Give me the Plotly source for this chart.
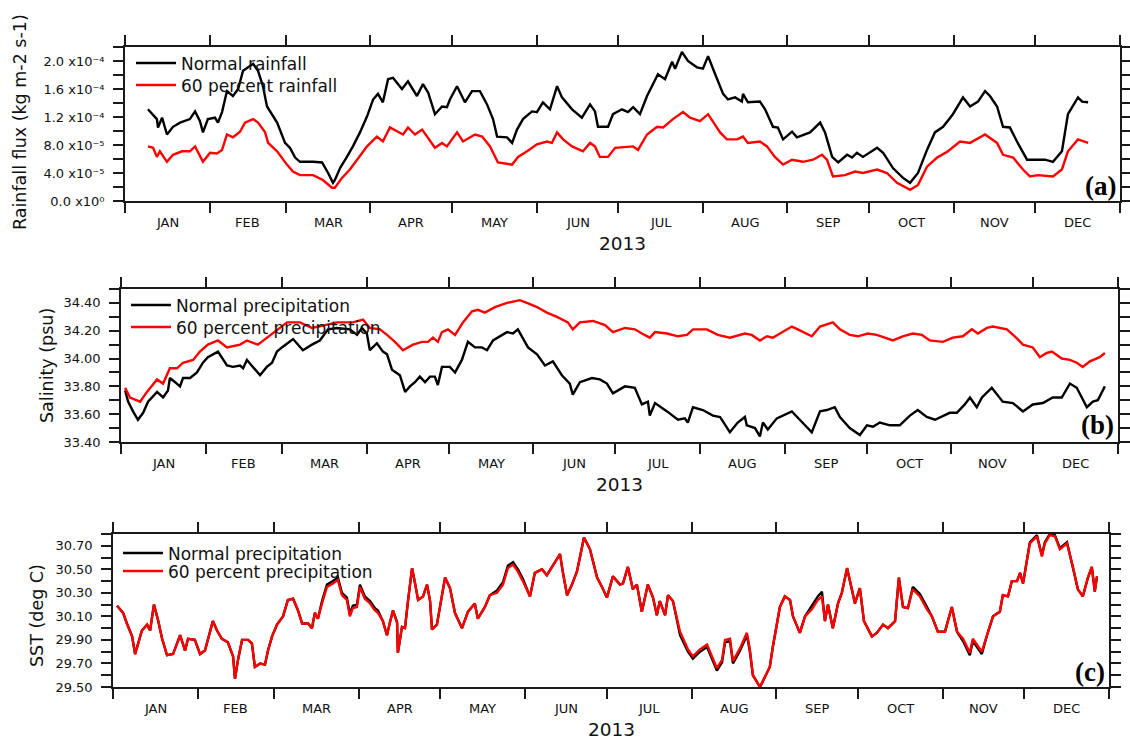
import plotly.graph_objects as go

# ---------------- axis categories / labels ----------------
MONTHS = ["JAN", "FEB", "MAR", "APR", "MAY", "JUN", "JUL", "AUG", "SEP", "OCT", "NOV", "DEC"]
MONTH_START = [0, 31, 59, 90, 120, 151, 181, 212, 243, 273, 304, 334, 365]
YEAR_LABEL = "2013"

RAIN_TICKS = [0, 4e-5, 8e-5, 1.2e-4, 1.6e-4, 2.0e-4]
RAIN_TICKTEXT = ["0.0 x10\u2070", "4.0 x10\u207b\u2075", "8.0 x10\u207b\u2075",
                 "1.2 x10\u207b\u2074", "1.6 x10\u207b\u2074", "2.0 x10\u207b\u2074"]
RAIN_MINOR = [2e-5, 6e-5, 1.0e-4, 1.4e-4, 1.8e-4, 2.2e-4]
SAL_TICKS = [33.4, 33.6, 33.8, 34.0, 34.2, 34.4]
SAL_TICKTEXT = ["33.40", "33.60", "33.80", "34.00", "34.20", "34.40"]
SAL_MINOR = [33.5, 33.7, 33.9, 34.1, 34.3, 34.5]
SST_TICKS = [29.5, 29.7, 29.9, 30.1, 30.3, 30.5, 30.7]
SST_TICKTEXT = ["29.50", "29.70", "29.90", "30.10", "30.30", "30.50", "30.70"]
SST_MINOR = [29.6, 29.8, 30.0, 30.2, 30.4, 30.6, 30.8]

# ---------------- (a) rainfall flux, kg m-2 s-1 (values x 1e-5) ----------------
rain_normal_days = [
    8.4, 11.7, 12.1, 13.6, 15.4, 17.6, 20.2, 23.8, 25.7, 27.5,
    28.6, 30.4, 33.0, 34.1, 35.6, 37.4, 39.6, 41.5, 43.3, 47.0,
    48.8, 50.6, 52.1, 53.9, 55.8, 58.7, 60.5, 62.4, 64.2, 69.0,
    72.3, 74.5, 76.3, 77.0, 78.9, 81.4, 83.6, 86.2, 88.8, 91.0,
    92.8, 94.6, 96.5, 98.3, 101.6, 103.8, 105.6, 107.1, 109.3, 111.2,
    113.7, 116.3, 118.1, 119.2, 121.8, 124.7, 127.3, 130.2, 132.8, 135.0,
    136.5, 140.1, 142.0, 143.8, 146.0, 149.3, 151.1, 153.3, 155.9, 158.5,
    160.3, 164.0, 167.6, 170.6, 172.4, 173.5, 177.2, 179.0, 182.3, 184.5,
    186.4, 188.9, 191.5, 193.3, 195.5, 198.1, 200.7, 201.8, 204.3, 206.5,
    209.8, 212.0, 213.9, 215.7, 217.5, 219.4, 221.2, 223.8, 226.3, 226.7,
    228.5, 232.9, 234.8, 237.7, 239.5, 241.4, 244.7, 246.5, 251.3, 255.0,
    256.8, 259.4, 261.6, 264.9, 266.7, 268.5, 270.7, 275.9, 278.1, 281.7,
    285.4, 288.0, 290.9, 294.2, 297.1, 300.1, 303.7, 307.4, 310.0, 312.9,
    315.5, 317.3, 319.9, 322.1, 324.6, 327.2, 330.9, 333.1, 337.5, 340.4,
    343.7, 345.9, 349.6, 351.1, 353.3]
rain_normal_e5 = [
    13.1, 11.7, 10.5, 11.9, 9.5, 10.6, 11.2, 11.7, 12.8, 11.4,
    9.8, 11.7, 11.9, 11.2, 12.7, 15.7, 15.0, 16.0, 18.6, 19.6,
    18.6, 16.4, 13.5, 12.4, 11.2, 8.3, 7.6, 6.2, 5.6, 5.6,
    5.5, 4.0, 2.6, 3.0, 4.7, 6.3, 7.8, 9.8, 12.1, 14.5,
    15.3, 14.1, 17.4, 17.6, 16.0, 17.1, 16.0, 15.0, 16.7, 15.5,
    12.4, 13.5, 13.4, 14.5, 16.4, 14.1, 15.7, 15.7, 13.8, 11.7,
    9.2, 9.1, 8.3, 10.2, 11.7, 12.8, 12.7, 14.1, 13.1, 16.4,
    14.8, 13.1, 11.9, 13.8, 12.8, 10.6, 10.6, 12.4, 13.1, 12.7,
    13.4, 12.4, 15.0, 16.3, 18.1, 17.4, 19.9, 18.9, 21.3, 20.0,
    19.1, 18.9, 20.7, 18.9, 17.0, 15.3, 14.5, 14.8, 14.2, 15.3,
    14.1, 14.2, 13.1, 10.6, 10.5, 8.8, 9.9, 9.1, 9.8, 11.2,
    9.8, 6.3, 5.5, 6.6, 6.2, 6.9, 6.3, 7.6, 6.9, 4.7,
    3.3, 2.6, 4.0, 7.3, 9.8, 10.6, 12.4, 14.8, 13.5, 14.2,
    15.7, 15.0, 13.5, 10.6, 10.5, 8.5, 5.9, 5.9, 5.9, 5.6,
    7.1, 12.4, 14.8, 14.2, 14.1]

rain_60_days = [
    8.4, 10.3, 11.7, 12.8, 15.4, 17.6, 20.9, 23.8, 25.7, 27.5,
    28.6, 31.2, 33.7, 35.6, 37.4, 39.6, 42.2, 44.0, 47.0, 48.8,
    51.4, 52.5, 55.8, 59.4, 61.6, 64.2, 69.0, 72.6, 75.9, 77.0,
    79.6, 82.5, 85.1, 88.8, 92.4, 94.6, 97.2, 100.1, 102.0, 103.8,
    106.4, 109.0, 110.8, 113.7, 116.3, 118.1, 121.8, 124.0, 128.4, 131.0,
    133.9, 135.7, 136.8, 142.0, 144.2, 147.5, 151.1, 154.8, 156.6, 158.5,
    160.7, 164.0, 168.0, 170.6, 172.4, 174.2, 177.2, 179.8, 184.2, 186.4,
    188.2, 191.5, 195.2, 197.4, 201.0, 204.7, 207.3, 210.9, 213.9, 215.7,
    218.3, 220.8, 224.5, 226.7, 228.5, 232.9, 235.5, 238.4, 241.4, 244.7,
    248.7, 252.4, 255.7, 257.5, 259.7, 264.1, 267.8, 270.7, 275.9, 279.5,
    283.2, 288.0, 290.9, 294.2, 297.9, 301.9, 306.3, 310.0, 315.5, 319.9,
    322.1, 325.8, 329.4, 332.0, 334.9, 340.4, 343.7, 345.9, 349.6, 353.3]
rain_60_e5 = [
    7.8, 7.6, 6.3, 7.1, 5.6, 6.6, 7.1, 7.1, 7.8, 6.3,
    5.6, 6.9, 6.8, 7.3, 9.5, 9.1, 9.9, 11.2, 11.7, 11.2,
    9.8, 8.3, 7.1, 5.2, 4.2, 3.7, 3.7, 3.0, 1.9, 1.9,
    3.3, 4.5, 5.9, 7.8, 9.2, 8.5, 10.5, 9.9, 9.5, 10.5,
    9.5, 10.2, 9.2, 7.6, 8.3, 7.8, 9.8, 8.5, 9.5, 9.2,
    7.8, 6.3, 5.5, 5.2, 6.3, 7.1, 8.1, 8.5, 8.3, 9.8,
    8.8, 7.8, 7.1, 8.3, 7.8, 6.3, 6.3, 7.6, 7.8, 7.8,
    7.3, 9.5, 10.6, 10.5, 11.7, 12.7, 11.9, 11.4, 12.4, 11.4,
    9.8, 8.8, 8.8, 9.2, 8.3, 8.5, 7.8, 6.3, 5.2, 5.9,
    5.6, 5.9, 6.6, 5.9, 3.5, 3.7, 4.2, 4.0, 4.5, 4.0,
    2.6, 1.6, 2.3, 4.9, 6.2, 7.1, 8.5, 8.3, 9.5, 8.3,
    6.6, 6.2, 4.5, 3.5, 3.7, 3.5, 4.5, 7.1, 8.8, 8.3]

# ---------------- (b) salinity, psu ----------------
sal_normal_days = [
    1.5, 2.6, 4.4, 6.2, 8.1, 9.9, 13.2, 15.4, 17.2, 17.9,
    19.8, 21.6, 22.7, 25.3, 27.8, 30.0, 31.8, 35.5, 38.8, 41.0,
    43.6, 44.7, 46.1, 47.9, 50.9, 53.4, 55.3, 57.1, 58.9, 63.0,
    66.6, 69.9, 72.8, 75.8, 79.1, 83.8, 86.4, 88.2, 90.0, 91.1,
    93.7, 95.9, 97.4, 99.2, 102.1, 104.0, 105.8, 107.6, 109.4, 111.3,
    113.1, 114.9, 116.0, 117.5, 120.4, 122.3, 124.8, 127.0, 129.6, 132.1,
    134.0, 136.2, 141.3, 143.5, 145.3, 149.0, 152.3, 155.2, 158.1, 161.4,
    164.3, 165.4, 168.0, 172.4, 175.3, 177.9, 180.1, 184.5, 188.1, 190.7,
    192.9, 193.6, 195.5, 199.9, 203.9, 206.4, 207.5, 209.4, 213.0, 216.7,
    219.3, 222.9, 225.8, 228.4, 229.1, 232.1, 233.9, 235.0, 236.8, 240.1,
    242.3, 245.6, 248.5, 252.9, 255.9, 258.4, 261.3, 263.2, 266.8, 270.5,
    273.1, 275.3, 277.8, 281.5, 285.1, 288.8, 291.7, 295.0, 298.0, 300.9,
    303.4, 306.0, 308.9, 310.8, 313.3, 315.2, 318.8, 322.8, 326.5, 330.2,
    333.8, 337.5, 341.1, 344.4, 347.4, 349.9, 353.6, 355.8, 357.6, 360.2]
sal_normal = [
    33.77, 33.69, 33.62, 33.56, 33.61, 33.69, 33.76, 33.72, 33.77, 33.86,
    33.83, 33.80, 33.86, 33.86, 33.90, 33.97, 34.01, 34.05, 33.95, 33.94,
    33.95, 33.93, 33.99, 33.95, 33.88, 33.94, 33.97, 34.05, 34.08, 34.14,
    34.06, 34.10, 34.13, 34.21, 34.22, 34.21, 34.17, 34.22, 34.18, 34.06,
    34.11, 34.05, 34.03, 33.92, 33.88, 33.76, 33.80, 33.83, 33.87, 33.83,
    33.87, 33.87, 33.81, 33.94, 33.94, 33.90, 33.99, 34.12, 34.08, 34.08,
    34.06, 34.13, 34.19, 34.18, 34.21, 34.08, 34.03, 33.95, 33.98, 33.88,
    33.82, 33.74, 33.83, 33.86, 33.85, 33.82, 33.75, 33.80, 33.79, 33.67,
    33.69, 33.59, 33.68, 33.62, 33.56, 33.57, 33.54, 33.65, 33.63, 33.59,
    33.58, 33.47, 33.54, 33.58, 33.52, 33.50, 33.44, 33.54, 33.49, 33.57,
    33.59, 33.62, 33.56, 33.47, 33.62, 33.63, 33.65, 33.58, 33.50, 33.45,
    33.52, 33.51, 33.54, 33.52, 33.52, 33.59, 33.63, 33.58, 33.56, 33.59,
    33.61, 33.61, 33.67, 33.72, 33.65, 33.72, 33.79, 33.69, 33.68, 33.62,
    33.67, 33.68, 33.72, 33.72, 33.82, 33.79, 33.65, 33.69, 33.70, 33.80]

sal_60_days = [
    1.5, 3.3, 7.0, 9.5, 13.2, 15.4, 17.9, 20.5, 22.7, 26.4,
    28.9, 31.8, 35.5, 38.8, 43.6, 46.1, 50.1, 53.4, 57.1, 60.8,
    65.5, 69.9, 74.7, 79.1, 84.9, 88.6, 91.1, 94.8, 97.4, 100.3,
    103.2, 106.9, 110.2, 112.4, 114.2, 116.0, 117.5, 119.7, 122.3, 125.2,
    128.5, 130.7, 133.2, 136.9, 141.3, 146.0, 148.6, 152.3, 155.9, 159.6,
    163.6, 165.4, 168.0, 172.8, 177.2, 180.1, 184.5, 188.1, 190.7, 193.6,
    195.5, 199.9, 203.9, 207.2, 209.4, 214.5, 218.5, 222.9, 228.4, 230.9,
    233.9, 236.5, 238.6, 242.3, 245.6, 247.8, 252.9, 255.9, 260.6, 263.2,
    266.8, 269.8, 273.4, 276.7, 282.6, 286.2, 289.9, 293.2, 296.1, 300.9,
    304.5, 308.2, 311.5, 313.7, 317.0, 319.2, 324.3, 327.2, 330.2, 333.8,
    336.4, 338.9, 340.8, 344.4, 347.4, 349.9, 352.1, 354.7, 358.3, 360.2]
sal_60 = [
    33.79, 33.72, 33.69, 33.76, 33.85, 33.82, 33.93, 33.93, 33.97, 33.99,
    34.05, 34.10, 34.13, 34.08, 34.10, 34.13, 34.10, 34.15, 34.21, 34.26,
    34.26, 34.22, 34.24, 34.26, 34.26, 34.28, 34.22, 34.21, 34.17, 34.12,
    34.06, 34.10, 34.12, 34.12, 34.15, 34.12, 34.19, 34.21, 34.17, 34.26,
    34.34, 34.35, 34.33, 34.37, 34.40, 34.42, 34.40, 34.37, 34.33, 34.30,
    34.26, 34.21, 34.26, 34.27, 34.24, 34.19, 34.22, 34.21, 34.18, 34.15,
    34.19, 34.18, 34.16, 34.17, 34.21, 34.21, 34.17, 34.15, 34.18, 34.17,
    34.13, 34.16, 34.15, 34.19, 34.23, 34.21, 34.16, 34.23, 34.26, 34.21,
    34.17, 34.16, 34.18, 34.17, 34.13, 34.16, 34.18, 34.17, 34.13, 34.12,
    34.15, 34.16, 34.21, 34.18, 34.22, 34.23, 34.21, 34.16, 34.10, 34.08,
    34.01, 34.04, 34.05, 34.00, 33.99, 33.97, 33.94, 33.98, 34.01, 34.04]

# ---------------- (c) SST, deg C ----------------
sst_days = [
    1.5, 3.7, 5.1, 7.0, 8.1, 9.2, 10.6, 12.5, 13.6, 15.0,
    16.5, 18.0, 19.8, 22.0, 24.6, 26.4, 27.5, 30.0, 31.9, 33.7,
    35.5, 36.6, 38.1, 39.9, 42.1, 44.0, 44.7, 45.8, 47.3, 49.5,
    50.9, 52.0, 53.9, 55.7, 56.8, 58.3, 60.1, 62.3, 64.1, 66.0,
    67.8, 69.3, 71.5, 72.9, 74.0, 75.1, 76.6, 78.4, 80.6, 82.4,
    83.9, 85.7, 86.8, 87.9, 89.4, 90.5, 92.3, 94.2, 96.0, 97.1,
    98.9, 100.4, 101.5, 102.6, 104.1, 104.4, 105.9, 107.0, 108.1, 109.6,
    110.7, 111.8, 113.6, 115.1, 116.2, 116.9, 118.7, 120.6, 121.7, 123.5,
    125.3, 127.9, 130.1, 132.6, 133.7, 136.3, 138.1, 140.7, 142.9, 144.7,
    146.6, 148.4, 150.2, 152.8, 154.6, 157.2, 159.0, 160.9, 163.8, 164.9,
    166.4, 168.2, 170.0, 171.1, 172.6, 174.8, 177.4, 179.2, 181.0, 183.2,
    185.8, 186.9, 188.7, 190.5, 192.0, 193.8, 196.0, 197.9, 199.3, 200.4,
    202.3, 203.4, 205.2, 207.8, 210.7, 212.5, 215.1, 217.7, 219.5, 221.3,
    223.2, 224.3, 226.1, 227.2, 229.8, 230.9, 232.3, 233.4, 234.5, 237.1,
    238.9, 240.7, 241.8, 244.4, 246.2, 248.1, 249.2, 251.7, 253.6, 256.1,
    258.3, 259.8, 260.9, 262.0, 263.8, 265.7, 267.1, 269.0, 270.8, 271.9,
    273.7, 275.2, 278.1, 279.9, 282.2, 284.0, 286.6, 288.0, 289.5, 291.3,
    293.1, 295.7, 298.3, 300.1, 302.3, 304.9, 307.4, 309.3, 311.5, 314.0,
    315.1, 317.0, 318.4, 320.3, 322.5, 325.0, 326.1, 328.0, 329.4, 331.3,
    332.4, 333.5, 336.0, 338.6, 340.4, 341.5, 343.3, 345.2, 347.0, 349.6,
    351.8, 353.6, 355.4, 357.3, 358.7, 359.8, 360.6]
sst_normal = [
    30.19, 30.13, 30.04, 29.93, 29.78, 29.87, 29.98, 30.03, 29.98, 30.20,
    30.07, 29.91, 29.77, 29.78, 29.94, 29.81, 29.91, 29.90, 29.78, 29.81,
    29.96, 30.06, 29.98, 29.91, 29.88, 29.76, 29.57, 29.73, 29.90, 29.90,
    29.87, 29.67, 29.70, 29.69, 29.81, 29.93, 30.03, 30.10, 30.24, 30.25,
    30.15, 30.04, 30.04, 30.00, 30.13, 30.08, 30.23, 30.37, 30.40, 30.43,
    30.30, 30.26, 30.12, 30.19, 30.20, 30.37, 30.27, 30.23, 30.17, 30.15,
    30.06, 29.94, 30.05, 30.15, 30.05, 29.79, 30.01, 30.00, 30.23, 30.51,
    30.38, 30.24, 30.27, 30.37, 30.23, 29.99, 30.03, 30.27, 30.43, 30.34,
    30.13, 30.00, 30.14, 30.21, 30.08, 30.18, 30.28, 30.32, 30.39, 30.53,
    30.56, 30.50, 30.42, 30.27, 30.47, 30.50, 30.45, 30.52, 30.63, 30.47,
    30.28, 30.37, 30.48, 30.60, 30.77, 30.67, 30.43, 30.35, 30.26, 30.44,
    30.37, 30.38, 30.52, 30.33, 30.37, 30.14, 30.37, 30.26, 30.11, 30.23,
    30.11, 30.28, 30.23, 29.94, 29.80, 29.74, 29.80, 29.84, 29.74, 29.64,
    29.71, 29.88, 29.89, 29.70, 29.81, 29.87, 29.94, 29.80, 29.60, 29.50,
    29.59, 29.67, 29.84, 30.18, 30.27, 30.24, 30.10, 29.96, 30.10, 30.19,
    30.27, 30.31, 30.06, 30.20, 30.00, 30.21, 30.30, 30.51, 30.33, 30.21,
    30.34, 30.06, 29.93, 29.96, 30.03, 30.00, 30.06, 30.43, 30.18, 30.17,
    30.35, 30.29, 30.18, 30.10, 29.97, 29.97, 30.18, 29.97, 29.89, 29.77,
    29.89, 29.82, 29.78, 29.94, 30.10, 30.14, 30.28, 30.27, 30.40, 30.40,
    30.47, 30.38, 30.73, 30.79, 30.62, 30.73, 30.80, 30.79, 30.68, 30.73,
    30.52, 30.33, 30.27, 30.43, 30.52, 30.31, 30.44]
sst_60 = [
    30.19, 30.13, 30.04, 29.93, 29.78, 29.87, 29.98, 30.03, 29.98, 30.20,
    30.07, 29.91, 29.77, 29.78, 29.94, 29.81, 29.91, 29.90, 29.78, 29.81,
    29.96, 30.06, 29.98, 29.91, 29.88, 29.76, 29.57, 29.73, 29.90, 29.90,
    29.87, 29.67, 29.70, 29.69, 29.81, 29.93, 30.03, 30.10, 30.24, 30.25,
    30.15, 30.04, 30.04, 30.00, 30.13, 30.08, 30.21, 30.35, 30.38, 30.41,
    30.28, 30.24, 30.10, 30.17, 30.18, 30.35, 30.25, 30.21, 30.15, 30.13,
    30.06, 29.94, 30.05, 30.15, 30.05, 29.79, 30.01, 30.00, 30.23, 30.51,
    30.38, 30.24, 30.27, 30.37, 30.23, 29.99, 30.03, 30.27, 30.43, 30.34,
    30.13, 30.00, 30.14, 30.21, 30.08, 30.18, 30.28, 30.30, 30.37, 30.51,
    30.54, 30.48, 30.40, 30.27, 30.47, 30.50, 30.45, 30.52, 30.63, 30.47,
    30.28, 30.37, 30.48, 30.60, 30.77, 30.67, 30.43, 30.35, 30.26, 30.44,
    30.37, 30.38, 30.52, 30.33, 30.37, 30.14, 30.37, 30.26, 30.11, 30.23,
    30.11, 30.28, 30.23, 29.97, 29.82, 29.76, 29.82, 29.86, 29.76, 29.66,
    29.73, 29.90, 29.91, 29.72, 29.83, 29.89, 29.96, 29.82, 29.60, 29.50,
    29.59, 29.67, 29.84, 30.18, 30.27, 30.24, 30.10, 29.96, 30.10, 30.16,
    30.24, 30.27, 30.06, 30.20, 30.00, 30.21, 30.30, 30.51, 30.33, 30.21,
    30.34, 30.06, 29.93, 29.96, 30.03, 30.00, 30.06, 30.43, 30.18, 30.17,
    30.33, 30.27, 30.16, 30.10, 29.97, 29.97, 30.18, 29.97, 29.91, 29.79,
    29.91, 29.84, 29.80, 29.94, 30.10, 30.14, 30.28, 30.27, 30.40, 30.40,
    30.47, 30.38, 30.72, 30.78, 30.61, 30.72, 30.79, 30.78, 30.67, 30.72,
    30.52, 30.33, 30.27, 30.43, 30.52, 30.31, 30.44]

assert len(rain_normal_days) == len(rain_normal_e5)
assert len(rain_60_days) == len(rain_60_e5)
assert len(sal_normal_days) == len(sal_normal)
assert len(sal_60_days) == len(sal_60)
assert len(sst_days) == len(sst_normal) == len(sst_60)

rain_normal = [v * 1e-5 for v in rain_normal_e5]
rain_60 = [v * 1e-5 for v in rain_60_e5]

# ---------------- layout geometry (pixels of the 1130x742 page) ----------------
W, H = 1130, 742
FONT = "DejaVu Sans"
AXC = "#1a1a1a"
TXT = "#111111"
BLACK = "#000000"
RED = "#ff0000"
LW = 2.4


def px_x(p):
    return p / W


def px_y(p):
    return 1 - p / H


panels = [
    dict(x=(125, 1120), y=(47, 201)),
    dict(x=(121, 1118), y=(289, 442)),
    dict(x=(113, 1109), y=(534, 687)),
]

fig = go.Figure()

series = [
    (rain_normal_days, rain_normal, "Normal rainfall", BLACK, "x", "y", "legend"),
    (rain_60_days, rain_60, "60 percent rainfall", RED, "x", "y", "legend2"),
    (sal_normal_days, sal_normal, "Normal precipitation", BLACK, "x2", "y2", "legend3"),
    (sal_60_days, sal_60, "60 percent precipitation", RED, "x2", "y2", "legend4"),
    (sst_days, sst_normal, "Normal precipitation", BLACK, "x3", "y3", "legend5"),
    (sst_days, sst_60, "60 percent precipitation", RED, "x3", "y3", "legend6"),
]
for xs, ys, name, col, xa, ya, lg in series:
    fig.add_trace(go.Scatter(x=xs, y=ys, mode="lines", name=name,
                             line=dict(color=col, width=LW),
                             xaxis=xa, yaxis=ya, legend=lg))

ytick_sets = [
    (RAIN_TICKS, RAIN_TICKTEXT, RAIN_MINOR, [0, 2.2e-4]),
    (SAL_TICKS, SAL_TICKTEXT, SAL_MINOR, [33.4, 34.5]),
    (SST_TICKS, SST_TICKTEXT, SST_MINOR, [29.5, 30.8]),
]

layout = dict(
    width=W, height=H,
    margin=dict(l=0, r=0, t=0, b=0, autoexpand=False),
    paper_bgcolor="white", plot_bgcolor="white",
    font=dict(family=FONT, size=13, color=TXT),
    showlegend=True,
)

annotations = []
for i, p in enumerate(panels):
    sfx = "" if i == 0 else str(i + 1)
    tv, tt, mv, rng = ytick_sets[i]
    layout["xaxis" + sfx] = dict(
        domain=[px_x(p["x"][0]), px_x(p["x"][1])], anchor="y" + sfx,
        range=[0, 365], tickmode="array", tickvals=MONTH_START,
        showticklabels=False, ticks="outside", ticklen=10, tickwidth=1.6,
        tickcolor=AXC, showline=True, linecolor=AXC, linewidth=1.6,
        mirror="ticks", showgrid=False, zeroline=False, fixedrange=True,
    )
    layout["yaxis" + sfx] = dict(
        domain=[px_y(p["y"][1]), px_y(p["y"][0])], anchor="x" + sfx,
        range=rng, tickmode="array", tickvals=tv, ticktext=tt,
        ticks="outside", ticklen=10, tickwidth=1.6, tickcolor=AXC,
        minor=dict(tickmode="array", tickvals=mv, ticks="outside", ticklen=10,
                   tickwidth=1.6, tickcolor=AXC, showgrid=False),
        showline=True, linecolor=AXC, linewidth=1.6, mirror="ticks",
        showgrid=False, zeroline=False, fixedrange=True,
        tickfont=dict(family=FONT, size=13, color=TXT),
        ticklabelstandoff=6,
    )
    xref = "x" + sfx
    ylab = p["y"][1] + 21
    for m in range(12):
        annotations.append(dict(
            x=(MONTH_START[m] + MONTH_START[m + 1]) / 2, xref=xref,
            y=px_y(ylab), yref="paper", text=MONTHS[m], showarrow=False,
            xanchor="center", yanchor="middle",
            font=dict(family=FONT, size=13, color=TXT)))
    annotations.append(dict(
        x=0.5, xref=xref + " domain",
        y=px_y(p["y"][1] + 42), yref="paper", text=YEAR_LABEL, showarrow=False,
        xanchor="center", yanchor="middle",
        font=dict(family=FONT, size=18.5, color=TXT)))

ytitles = [("Rainfall flux (kg m-2 s-1)", 20, 122),
           ("Salinity (psu)", 47, 366),
           ("SST (deg C)", 37, 616)]
for txt, xp, yp in ytitles:
    annotations.append(dict(x=px_x(xp), y=px_y(yp), xref="paper", yref="paper",
                            text=txt, textangle=-90, showarrow=False,
                            xanchor="center", yanchor="middle",
                            font=dict(family=FONT, size=17.5, color=TXT)))

letters = [("(a)", "x domain", "y domain", 0.10),
           ("(b)", "x2 domain", "y2 domain", 0.11),
           ("(c)", "x3 domain", "y3 domain", 0.10)]
for txt, xr, yr, yy in letters:
    annotations.append(dict(x=0.998, y=yy, xref=xr, yref=yr, text="<b>" + txt + "</b>",
                            showarrow=False, xanchor="right", yanchor="middle",
                            font=dict(family="Liberation Serif", size=27, color="#000000")))

layout["annotations"] = annotations

leg_pos = {
    "legend": (131, 45.5), "legend2": (131, 67.5),
    "legend3": (126, 287.5), "legend4": (126, 309.5),
    "legend5": (118, 535.5), "legend6": (118, 553.5),
}
for lg, (xp, yp) in leg_pos.items():
    layout[lg] = dict(x=px_x(xp), y=px_y(yp), xanchor="left", yanchor="top",
                      bgcolor="rgba(0,0,0,0)", borderwidth=0,
                      font=dict(family=FONT, size=17, color=TXT),
                      itemwidth=40, tracegroupgap=0)

fig.update_layout(**layout)

fig.write_html("out.html", config={"displayModeBar": False},
               post_script="document.body.style.margin='0';")
